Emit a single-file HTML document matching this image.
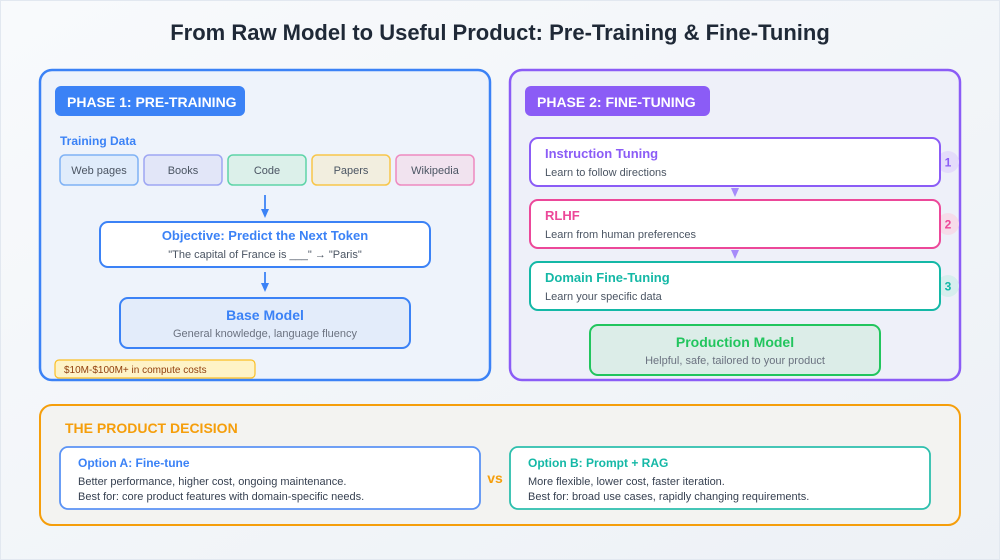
<!DOCTYPE html>
<html><head><meta charset="utf-8"><style>
html,body{margin:0;padding:0;width:1000px;height:560px;overflow:hidden;background:#f4f6f9}
svg{display:block;font-family:"Liberation Sans",Arial,sans-serif}
</style></head><body>
<svg width="1000" height="560" viewBox="0 0 1000 560" xmlns="http://www.w3.org/2000/svg">
<defs>
<linearGradient id="bg" x1="0" y1="0" x2="1" y2="1"><stop offset="0" stop-color="#f8fafc"/><stop offset="1" stop-color="#edf1f6"/></linearGradient>
</defs>
<rect x="0.5" y="0.5" width="999" height="559" fill="url(#bg)" stroke="#e2e8f0"/>
<text x="500" y="40" text-anchor="middle" font-size="22" font-weight="bold" fill="#1f2937">From Raw Model to Useful Product: Pre-Training &amp; Fine-Tuning</text>

<!-- Phase 1 -->
<rect x="40" y="70" width="450" height="310" rx="12" fill="#eef3fb" stroke="#3b82f6" stroke-width="2.5"/>
<rect x="55" y="86" width="190" height="30" rx="6" fill="#3b82f6"/>
<text x="67" y="107" font-size="14" font-weight="bold" fill="#fff">PHASE 1: PRE-TRAINING</text>
<text x="60" y="145" font-size="12" font-weight="bold" fill="#3b82f6">Training Data</text>
<g font-size="11" fill="#4b5563" text-anchor="middle" stroke-width="1.5">
<rect x="60" y="155" width="78" height="30" rx="5" fill="#e0ecfb" stroke="#7fb2f5"/><text x="99" y="174" stroke="none">Web pages</text>
<rect x="144" y="155" width="78" height="30" rx="5" fill="#e2e6f8" stroke="#9ea6f3"/><text x="183" y="174" stroke="none">Books</text>
<rect x="228" y="155" width="78" height="30" rx="5" fill="#dcf0ea" stroke="#5ed4a8"/><text x="267" y="174" stroke="none">Code</text>
<rect x="312" y="155" width="78" height="30" rx="5" fill="#f2eedf" stroke="#f8c64a"/><text x="351" y="174" stroke="none">Papers</text>
<rect x="396" y="155" width="78" height="30" rx="5" fill="#f1e3ef" stroke="#ee8ac0"/><text x="435" y="174" stroke="none">Wikipedia</text>
</g>
<line x1="265" y1="195" x2="265" y2="212" stroke="#3b82f6" stroke-width="1.8"/>
<polygon points="261,209 269,209 265,218" fill="#3b82f6"/>
<rect x="100" y="222" width="330" height="45" rx="8" fill="#fff" stroke="#3b82f6" stroke-width="2"/>
<text x="265" y="240" text-anchor="middle" font-size="13" font-weight="bold" fill="#3b82f6">Objective: Predict the Next Token</text>
<text x="265" y="258" text-anchor="middle" font-size="11" fill="#4b5563">"The capital of France is ___" → "Paris"</text>
<line x1="265" y1="272" x2="265" y2="286" stroke="#3b82f6" stroke-width="1.8"/>
<polygon points="261,283 269,283 265,292" fill="#3b82f6"/>
<rect x="120" y="298" width="290" height="50" rx="8" fill="#e3ecfa" stroke="#3b82f6" stroke-width="2"/>
<text x="265" y="320" text-anchor="middle" font-size="14" font-weight="bold" fill="#3b82f6">Base Model</text>
<text x="265" y="337" text-anchor="middle" font-size="11" fill="#6b7280">General knowledge, language fluency</text>
<rect x="55" y="360" width="200" height="18" rx="4" fill="#fef3c7" stroke="#fbbf24" stroke-width="1.2"/>
<text x="64" y="373" font-size="10" fill="#92400e">$10M-$100M+ in compute costs</text>

<!-- Phase 2 -->
<rect x="510" y="70" width="450" height="310" rx="12" fill="#eef0f9" stroke="#8b5cf6" stroke-width="2.5"/>
<rect x="525" y="86" width="185" height="30" rx="6" fill="#8b5cf6"/>
<text x="537" y="107" font-size="14" font-weight="bold" fill="#fff">PHASE 2: FINE-TUNING</text>

<circle cx="948" cy="162" r="11" fill="#e4dcfb"/><text x="948" y="166.5" text-anchor="middle" font-size="12" font-weight="bold" fill="#8b5cf6">1</text>
<circle cx="948" cy="224" r="11" fill="#f6dcea"/><text x="948" y="228.5" text-anchor="middle" font-size="12" font-weight="bold" fill="#ec4899">2</text>
<circle cx="948" cy="286" r="11" fill="#d6eeee"/><text x="948" y="290.5" text-anchor="middle" font-size="12" font-weight="bold" fill="#14b8a6">3</text>

<rect x="530" y="138" width="410" height="48" rx="8" fill="#fff" stroke="#8b5cf6" stroke-width="2"/>
<text x="545" y="158" font-size="13" font-weight="bold" fill="#8b5cf6">Instruction Tuning</text>
<text x="545" y="176" font-size="11" fill="#4b5563">Learn to follow directions</text>
<polygon points="731,188 739,188 735,197" fill="#a78bfa"/>

<rect x="530" y="200" width="410" height="48" rx="8" fill="#fff" stroke="#ec4899" stroke-width="2"/>
<text x="545" y="220" font-size="13" font-weight="bold" fill="#ec4899">RLHF</text>
<text x="545" y="238" font-size="11" fill="#4b5563">Learn from human preferences</text>
<polygon points="731,250 739,250 735,259" fill="#a78bfa"/>

<rect x="530" y="262" width="410" height="48" rx="8" fill="#fff" stroke="#14b8a6" stroke-width="2"/>
<text x="545" y="282" font-size="13" font-weight="bold" fill="#14b8a6">Domain Fine-Tuning</text>
<text x="545" y="300" font-size="11" fill="#4b5563">Learn your specific data</text>

<rect x="590" y="325" width="290" height="50" rx="8" fill="#dcede8" stroke="#22c55e" stroke-width="2"/>
<text x="735" y="347" text-anchor="middle" font-size="14" font-weight="bold" fill="#22c55e">Production Model</text>
<text x="735" y="364" text-anchor="middle" font-size="11" fill="#6b7280">Helpful, safe, tailored to your product</text>

<!-- Bottom -->
<rect x="40" y="405" width="920" height="120" rx="12" fill="#f3f3f1" stroke="#f59e0b" stroke-width="2"/>
<text x="65" y="433" font-size="14" font-weight="bold" fill="#f59e0b">THE PRODUCT DECISION</text>
<rect x="60" y="447" width="420" height="62" rx="8" fill="#fff" stroke="#5b93f5" stroke-width="1.8"/>
<text x="78" y="467" font-size="12" font-weight="bold" fill="#3b82f6">Option A: Fine-tune</text>
<text x="78" y="485" font-size="11" fill="#374151">Better performance, higher cost, ongoing maintenance.</text>
<text x="78" y="500" font-size="11" fill="#374151">Best for: core product features with domain-specific needs.</text>
<text x="495" y="483" text-anchor="middle" font-size="14" font-weight="bold" fill="#f59e0b">vs</text>
<rect x="510" y="447" width="420" height="62" rx="8" fill="#fff" stroke="#2dbfad" stroke-width="1.8"/>
<text x="528" y="467" font-size="12" font-weight="bold" fill="#14b8a6">Option B: Prompt + RAG</text>
<text x="528" y="485" font-size="11" fill="#374151">More flexible, lower cost, faster iteration.</text>
<text x="528" y="500" font-size="11" fill="#374151">Best for: broad use cases, rapidly changing requirements.</text>
</svg>
</body></html>
